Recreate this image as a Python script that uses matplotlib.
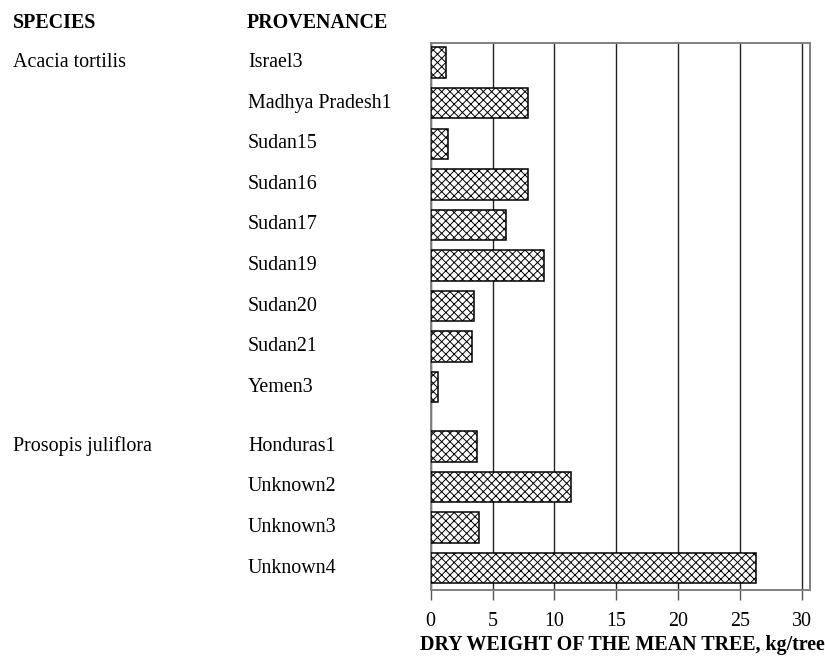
import matplotlib
matplotlib.use("Agg")
import matplotlib.pyplot as plt
from matplotlib.transforms import blended_transform_factory

plt.rcParams['font.family'] = ['Liberation Serif', 'DejaVu Serif']
plt.rcParams['hatch.linewidth'] = 0.7

species = ["Acacia tortilis", "Prosopis juliflora"]
provenances = [
    ["Israel3", "Madhya Pradesh1", "Sudan15", "Sudan16", "Sudan17",
     "Sudan19", "Sudan20", "Sudan21", "Yemen3"],
    ["Honduras1", "Unknown2", "Unknown3", "Unknown4"],
]
values = [
    [1.23, 7.9, 1.36, 7.9, 6.07, 9.13, 3.48, 3.31, 0.6],
    [3.74, 11.38, 3.91, 26.3],
]
xticks = [0, 5, 10, 15, 20, 25, 30]

FS = 14.4
fig = plt.figure(figsize=(8.25, 6.57), dpi=100)
ax = fig.add_axes([430.7 / 825, 1 - 590 / 657, (810 - 430.7) / 825, (590 - 42.7) / 657])

group_gap = 0.46
trans = blended_transform_factory(fig.transFigure, ax.transData)
pos = 0.0
for g, (sp, provs, vals) in enumerate(zip(species, provenances, values)):
    if g > 0:
        pos += group_gap
    for i, (p, v) in enumerate(zip(provs, vals)):
        ax.barh(pos, v, height=0.75, color="white", edgecolor="black",
                linewidth=1.1, hatch="xxxx", zorder=3)
        ax.text(248 / 825, pos, p, transform=trans, ha="left", va="center",
                fontsize=FS)
        if i == 0:
            ax.text(13 / 825, pos, sp, transform=trans, ha="left", va="center",
                    fontsize=FS)
        pos += 1
last = pos - 1

ax.set_ylim(last + 0.54, -0.49)
ax.set_xlim(0, 30.67)
ax.set_yticks([])
ax.set_xticks(xticks)
ax.set_xticklabels([str(t) for t in xticks], fontsize=FS)
ax.tick_params(axis="x", direction="out", length=7, width=1.0, color="#555555", pad=9)
ax.grid(axis="x", color="#222222", linewidth=1.0, zorder=0)
for s in ax.spines.values():
    s.set_color("#808080")
    s.set_linewidth(1.4)

fig.text(13 / 825, 1 - 23 / 657, "SPECIES", fontsize=FS, fontweight="bold",
         ha="left", va="center")
fig.text(247 / 825, 1 - 23 / 657, "PROVENANCE", fontsize=FS, fontweight="bold",
         ha="left", va="center")
fig.text(622 / 825, 1 - 645 / 657, "DRY WEIGHT OF THE MEAN TREE, kg/tree",
         fontsize=FS, fontweight="bold", ha="center", va="center")

fig.savefig("out.png", dpi=100)
